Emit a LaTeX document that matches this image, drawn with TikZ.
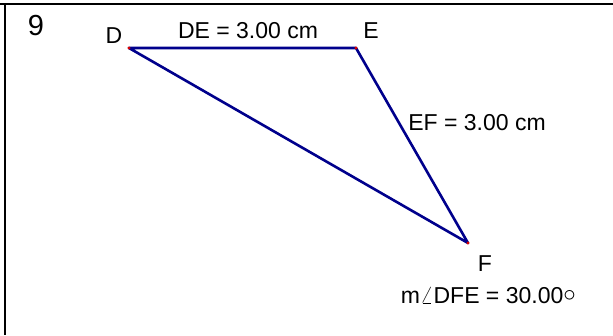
\documentclass[tikz,border=0pt]{standalone}
\usepackage{fontspec}
\setmainfont{Liberation Sans}
\begin{document}
\begin{tikzpicture}[x=1pt,y=-1pt,
  seg/.style={draw={rgb,255:red,0;green,0;blue,140}, line width=2.6pt, line cap=round, line join=round},
  lbl/.style={inner sep=0pt, anchor=base, font=\fontsize{23}{26}\selectfont},
  pt/.style={circle, fill=red!85!black, inner sep=0pt, minimum size=3.2pt}]
\useasboundingbox (0,0) rectangle (613,335);
\draw[line width=2.5pt] (0,4) -- (613,4);
\draw[line width=2.5pt] (5,4) -- (5,335);
\coordinate (D) at (129,48);
\coordinate (E) at (356,48);
\coordinate (F) at (468,243);
\draw[seg] (D) -- (E) -- (F) -- cycle;
\node[pt] (pD) at (D) {};
\node[pt] (pE) at (E) {};
\node[pt] (pF) at (F) {};
\node[lbl, font=\fontsize{29}{32}\selectfont] (n9) at (36,35) {9};
\node[lbl] (lD) at (114,43) {D};
\node[lbl] (lDE) at (248,38) {DE = 3.00 cm};
\node[lbl] (lE) at (371,38) {E};
\node[lbl] (lEF) at (477,130.5) {EF = 3.00 cm};
\node[lbl] (lF) at (485,271) {F};
\node[lbl, anchor=base east] (lA) at (576,303) {m$\angle$DFE = 30.00\raisebox{1.5pt}{$\circ$}};
\end{tikzpicture}
\end{document}
